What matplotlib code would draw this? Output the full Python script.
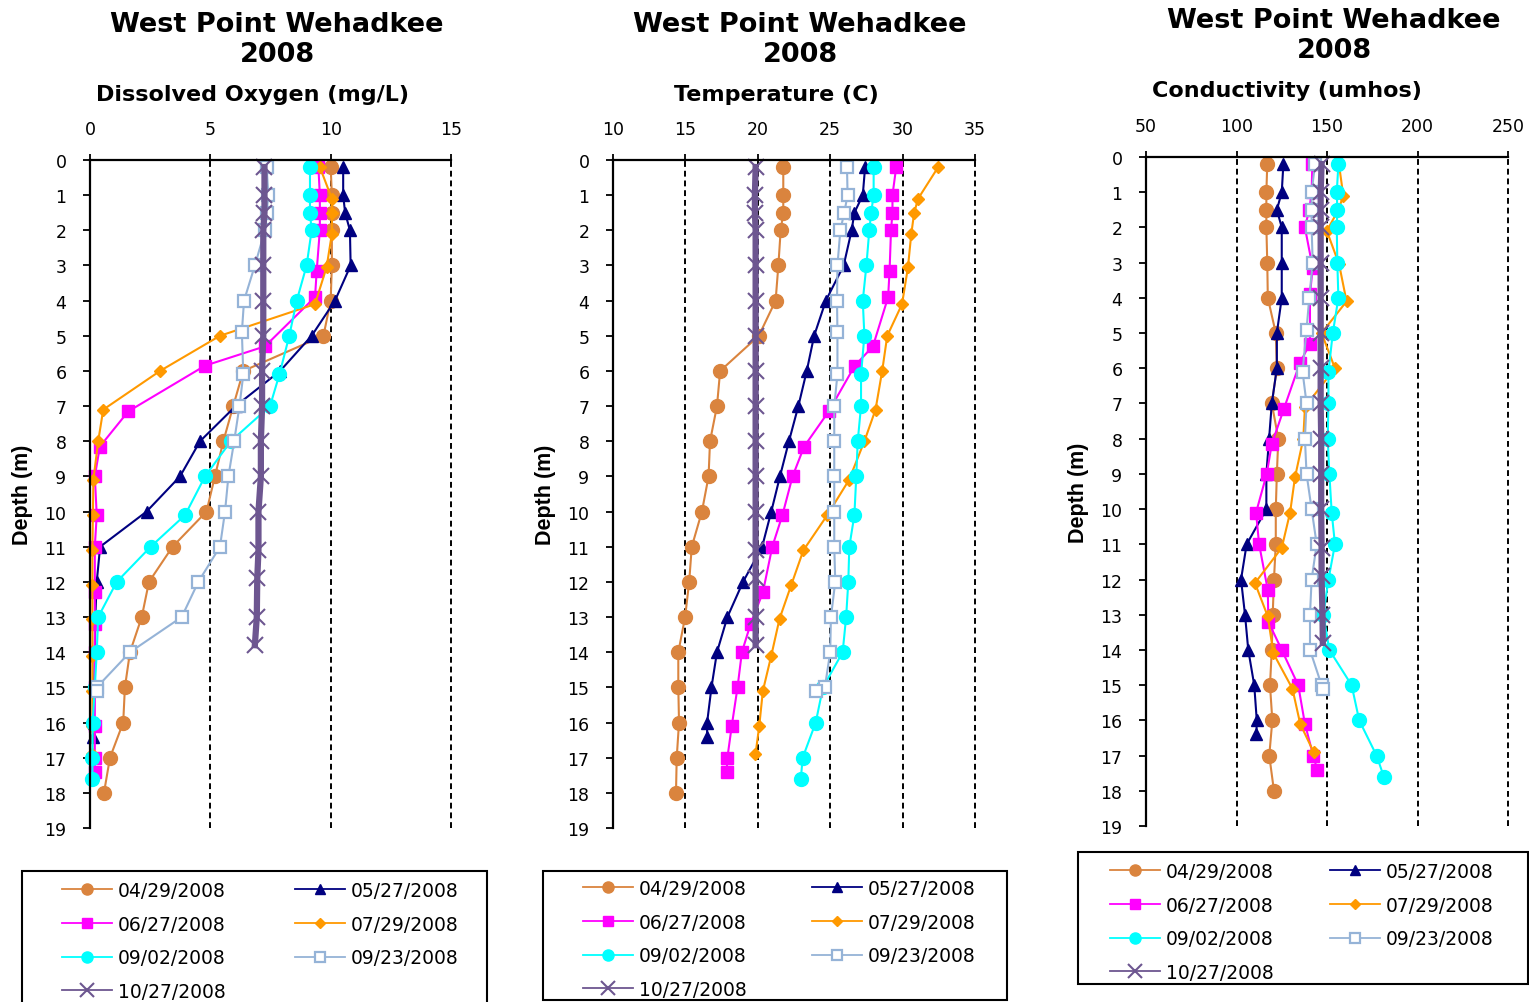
import matplotlib
matplotlib.use("Agg")
import matplotlib.pyplot as plt
from matplotlib.lines import Line2D
from matplotlib.patches import Rectangle

# ---- data ----
dates = ["04/29/2008", "05/27/2008", "06/27/2008", "07/29/2008",
         "09/02/2008", "09/23/2008", "10/27/2008"]

depth_0429 = [0.2, 1, 1.5, 2, 3, 4, 5, 6, 7, 8, 9, 10, 11, 12, 13, 14, 15, 16, 17, 18]
depth_0527 = [0.2, 1, 1.5, 2, 3, 4, 5, 6, 7, 8, 9, 10, 11, 12, 13, 14, 15, 16, 16.4]
depth_0627 = [0.2, 1, 1.5, 2, 3.15, 3.9, 5.3, 5.85, 7.15, 8.15, 9, 10.1, 11, 12.3, 13.2,
              14, 15, 16.1, 17, 17.4]
depth_0729 = [0.2, 1.1, 1.5, 2.1, 3.05, 4.1, 5, 6, 7.1, 8, 9.1, 10.1, 11.1, 12.1, 13.05,
              14.1, 15.1, 16.1, 16.9]
depth_0902 = [0.2, 1, 1.5, 2, 3, 4, 5, 6.1, 7, 8, 9, 10.1, 11, 12, 13, 14, 15, 16, 17, 17.6]
depth_0923 = [0.2, 1, 1.5, 2, 3, 4, 4.9, 6.1, 7, 8, 9, 10, 11, 12, 13, 14, 15, 15.1]
depth_1027 = [0.2, 1, 1.5, 2, 3, 4, 5, 6, 7, 8, 9, 10, 11.1, 11.9, 13, 13.8]

# dissolved oxygen (mg/L)
do_0429 = [10.0, 10.05, 10.05, 10.05, 10.05, 10.0, 9.7, 6.37, 5.95, 5.54, 5.19, 4.84,
           3.43, 2.45, 2.15, 1.66, 1.45, 1.38, 0.83, 0.58]
do_0527 = [10.52, 10.52, 10.6, 10.8, 10.83, 10.18, 9.21, 7.9, 6.05, 4.57, 3.74, 2.35,
           0.42, 0.28, 0.22, 0.2, 0.18, 0.16, 0.14]
do_0627 = [9.49, 9.55, 9.55, 9.55, 9.42, 9.35, 7.27, 4.78, 1.59, 0.41, 0.2, 0.28, 0.2,
           0.2, 0.2, 0.2, 0.2, 0.2, 0.2, 0.2]
do_0729 = [9.55, 10.05, 10.05, 10.05, 9.83, 9.35, 5.4, 2.91, 0.55, 0.34, 0.14, 0.12, 0.1,
           0.1, 0.1, 0.1, 0.1, 0.1, 0.1]
do_0902 = [9.14, 9.14, 9.14, 9.21, 9.0, 8.59, 8.28, 7.87, 7.48, 5.85, 4.78, 3.95, 2.52,
           1.11, 0.34, 0.28, 0.2, 0.11, 0.1, 0.1]
do_0923 = [7.34, 7.41, 7.34, 7.27, 6.85, 6.4, 6.31, 6.37, 6.21, 5.99, 5.75, 5.61, 5.4,
           4.5, 3.81, 1.66, 0.28, 0.3]
do_1027 = [7.25, 7.25, 7.25, 7.2, 7.2, 7.2, 7.2, 7.15, 7.15, 7.1, 7.1, 7.0, 7.0, 6.95,
           6.93, 6.85]

# temperature (C)
temp_0429 = [21.76, 21.76, 21.76, 21.58, 21.42, 21.23, 20.07, 17.4, 17.18, 16.7, 16.6,
             16.14, 15.44, 15.26, 14.98, 14.51, 14.51, 14.56, 14.4, 14.35]
temp_0527 = [27.41, 27.25, 26.67, 26.48, 25.93, 24.7, 23.89, 23.38, 22.8, 22.15, 21.53,
             20.93, 20.3, 18.98, 17.9, 17.18, 16.8, 16.5, 16.5]
temp_0627 = [29.56, 29.3, 29.3, 29.2, 29.1, 29.0, 27.95, 26.7, 24.9, 23.2, 22.4, 21.7,
             21.0, 20.35, 19.5, 18.9, 18.6, 18.2, 17.9, 17.85]
temp_0729 = [32.46, 31.07, 30.8, 30.6, 30.37, 29.96, 28.94, 28.59, 28.13, 27.36, 26.3,
             24.8, 23.15, 22.3, 21.5, 20.93, 20.35, 20.1, 19.84]
temp_0902 = [28.0, 28.0, 27.83, 27.7, 27.5, 27.25, 27.36, 27.13, 27.13, 26.9, 26.8,
             26.67, 26.32, 26.25, 26.1, 25.86, 24.5, 24.0, 23.1, 22.97]
temp_0923 = [26.16, 26.2, 25.97, 25.7, 25.5, 25.47, 25.5, 25.5, 25.28, 25.28, 25.28,
             25.28, 25.28, 25.35, 25.05, 25.0, 24.63, 24.0]
temp_1027 = [19.85, 19.8, 19.8, 19.85, 19.85, 19.85, 19.85, 19.85, 19.85, 19.85, 19.85,
             19.85, 19.85, 19.85, 19.85, 19.85]

# conductivity (umhos)
cond_0429 = [117.0, 116.5, 116.5, 116.5, 117.0, 117.3, 121.7, 122.3, 119.5, 123.1, 122.3,
             121.7, 121.7, 120.7, 120.0, 119.5, 118.5, 119.8, 118.1, 120.7]
cond_0527 = [125.9, 125.0, 122.3, 125.0, 125.0, 125.0, 122.3, 122.3, 119.5, 118.0, 116.5,
             116.5, 105.6, 102.5, 104.7, 106.5, 109.8, 111.2, 111.0]
cond_0627 = [141.9, 141.5, 140.2, 137.8, 142.1, 140.6, 140.6, 135.0, 126.2, 119.5, 116.7,
             110.8, 112.5, 117.3, 117.6, 125.0, 134.1, 137.8, 142.4, 144.6]
cond_0729 = [156.6, 159.0, 156.3, 149.9, 156.7, 160.8, 147.0, 154.4, 137.8, 136.9, 132.3,
             129.6, 125.0, 110.2, 117.3, 120.4, 130.9, 135.2, 142.6]
cond_0902 = [156.3, 155.4, 155.7, 155.4, 155.7, 156.3, 153.2, 150.8, 150.8, 150.4, 151.3,
             152.6, 154.4, 150.8, 148.0, 151.3, 163.6, 167.8, 177.4, 181.4]
cond_0923 = [143.4, 141.5, 141.5, 141.5, 142.1, 140.2, 138.7, 136.5, 138.7, 137.8, 138.7,
             141.5, 144.3, 141.5, 140.6, 140.6, 147.0, 148.0]
cond_1027 = [147.0, 146.5, 146.5, 146.5, 146.5, 146.5, 146.5, 146.5, 146.5, 146.8, 146.8,
             146.8, 147.0, 147.0, 147.5, 147.7]

depths = [depth_0429, depth_0527, depth_0627, depth_0729, depth_0902, depth_0923, depth_1027]

# ---- styles ----
styles = [
    dict(color="#DA843E", marker="o", ms=10, mfc="#DA843E", mec="#DA843E", lw=1.5),
    dict(color="#000080", marker="^", ms=9, mfc="#000080", mec="#000080", lw=1.5),
    dict(color="#FF00FF", marker="s", ms=9, mfc="#FF00FF", mec="#FF00FF", lw=1.5),
    dict(color="#FF9900", marker="D", ms=6, mfc="#FF9900", mec="#FF9900", lw=1.5),
    dict(color="#00FFFF", marker="o", ms=10, mfc="#00FFFF", mec="#00FFFF", lw=1.5),
    dict(color="#95B3D7", marker="s", ms=9, mfc="white", mec="#95B3D7", mew=1.6, lw=1.5),
    dict(color="#6D5690", marker="x", ms=12, mec="#6D5690", mew=1.5, lw=4.5),
]

W, H = 1529, 1003
fig = plt.figure(figsize=(W / 100, H / 100), dpi=100)


def fx(px):
    return px / W


def fy(py):
    return 1 - py / H


panels = [
    dict(values=[do_0429, do_0527, do_0627, do_0729, do_0902, do_0923, do_1027],
         xlim=(0, 15), xticks=[0, 5, 10, 15], box=(90, 161, 451, 829),
         title_x=277, title_y=40, sub="Dissolved Oxygen (mg/L)", sub_x=253, sub_y=95,
         leg_box=(22, 872, 487, 1012), leg_x=62, leg_row=890, colsp=3.7),
    dict(values=[temp_0429, temp_0527, temp_0627, temp_0729, temp_0902, temp_0923, temp_1027],
         xlim=(10, 35), xticks=[10, 15, 20, 25, 30, 35], box=(613, 161, 975, 829),
         title_x=800, title_y=40, sub="Temperature (C)", sub_x=776, sub_y=95,
         leg_box=(543, 872, 1007, 1001), leg_x=583, leg_row=888, colsp=3.5),
    dict(values=[cond_0429, cond_0527, cond_0627, cond_0729, cond_0902, cond_0923, cond_1027],
         xlim=(50, 250), xticks=[50, 100, 150, 200, 250], box=(1146, 158, 1508, 827),
         title_x=1334, title_y=36, sub="Conductivity (umhos)", sub_x=1287, sub_y=91,
         leg_box=(1078, 853, 1528, 985), leg_x=1110, leg_row=871, colsp=3.0),
]

for p in panels:
    x0, y0, x1, y1 = p["box"]
    ax = fig.add_axes([fx(x0), fy(y1), (x1 - x0) / W, (y1 - y0) / H])
    for d, v, st in zip(depths, p["values"], styles):
        ax.plot(v, d, clip_on=False, **st)

    ax.set_xlim(*p["xlim"])
    ax.set_ylim(19, 0)
    ax.set_xticks(p["xticks"])
    ax.set_yticks(range(0, 20))
    ax.xaxis.tick_top()
    ax.spines["right"].set_visible(False)
    ax.spines["bottom"].set_visible(False)
    ax.spines["top"].set_linewidth(1.6)
    ax.spines["left"].set_linewidth(1.6)
    ax.tick_params(axis="x", direction="out", length=4, width=1.3, pad=12, labelsize=12.5)
    ax.tick_params(axis="y", direction="out", length=5, width=1.3, pad=12, labelsize=12.5)
    for xv in p["xticks"][1:]:
        ax.axvline(xv, color="black", lw=1.4, ls=(0, (3, 2)), zorder=0.5, clip_on=False)
    ax.set_ylabel("Depth (m)", family="Liberation Sans", fontweight="bold",
                  fontsize=15.5, labelpad=8)

    fig.text(fx(p["title_x"]), fy(p["title_y"]), "West Point Wehadkee\n2008",
             ha="center", va="center", fontsize=19.5, fontweight="bold", linespacing=1.2)
    fig.text(fx(p["sub_x"]), fy(p["sub_y"]), p["sub"], ha="center", va="center",
             fontsize=16, fontweight="bold")

    # legend: two columns, row-major like the original
    handles = []
    for st in styles:
        hs = dict(st)
        hs["lw"] = 1.3
        hs["ms"] = st["ms"] * 0.8
        handles.append(Line2D([], [], **hs))
    order = [0, 2, 4, 6, 1, 3, 5]
    fig.legend([handles[i] for i in order], [dates[i] for i in order],
               loc="upper left", bbox_to_anchor=(fx(p["leg_x"]), fy(p["leg_row"] - 8)),
               ncol=2, frameon=False, fontsize=13.5, borderpad=0, borderaxespad=0,
               handlelength=2.67, handletextpad=0.3, columnspacing=p["colsp"],
               labelspacing=0.78)
    bx0, by0, bx1, by1 = p["leg_box"]
    fig.patches.append(Rectangle((fx(bx0), fy(by1)), (bx1 - bx0) / W, (by1 - by0) / H,
                                 transform=fig.transFigure, fill=False,
                                 edgecolor="black", lw=1.5))

fig.savefig("out.png", dpi=100)
